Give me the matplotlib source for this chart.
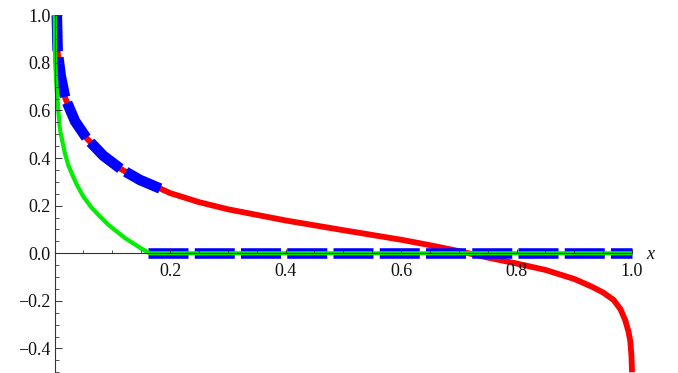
import matplotlib
matplotlib.use("Agg")
import matplotlib.pyplot as plt
from matplotlib.ticker import MultipleLocator, FixedLocator, FuncFormatter

plt.rcParams['font.family'] = 'serif'
plt.rcParams['font.serif'] = ['Liberation Serif', 'DejaVu Serif']
plt.rcParams['lines.scale_dashes'] = False

# red curve
red_x = [0.004, 0.0055, 0.011, 0.0187, 0.0355, 0.0557, 0.0845, 0.115, 0.148, 0.183,
         0.2, 0.25, 0.3, 0.4, 0.5, 0.6, 0.65, 0.7, 0.75, 0.8, 0.85, 0.9, 0.93,
         0.95, 0.968, 0.98, 0.988, 0.994, 0.997, 0.999, 1.0]
red_y = [1.0, 0.845, 0.742, 0.651, 0.555, 0.483, 0.41, 0.354, 0.308, 0.272,
         0.253, 0.215, 0.185, 0.138, 0.097, 0.057, 0.034, 0.009, -0.018, -0.043,
         -0.07, -0.108, -0.14, -0.165, -0.196, -0.235, -0.28, -0.33, -0.37, -0.43, -0.5]

# blue dashed: follows red up to the cut, then zero
blue_cut = 0.183
blue_low_x = [0.162, 1.0]
blue_low_y = [0.0, 0.0]

# green curve
green_x = [0.0005, 0.001, 0.0035, 0.0066, 0.0095, 0.018, 0.024, 0.0298, 0.0384,
           0.05, 0.064, 0.079, 0.093, 0.108, 0.122, 0.136, 0.151, 0.165, 1.0]
green_y = [1.0, 0.81, 0.70, 0.60, 0.518, 0.42, 0.369, 0.336, 0.289,
           0.238, 0.192, 0.154, 0.120, 0.091, 0.064, 0.042, 0.019, 0.0, 0.0]

x_ticks = [0.2, 0.4, 0.6, 0.8, 1.0]
y_ticks = [-0.4, -0.2, 0.0, 0.2, 0.4, 0.6, 0.8, 1.0]

fig = plt.figure(figsize=(6.78, 3.73), dpi=100)
ax = fig.add_axes([0.0804, 0.002, 0.8518, 0.957])

blue_up_x = [x for x in red_x if x <= blue_cut]
blue_up_y = red_y[:len(blue_up_x)]

ax.plot(red_x, red_y, color='#ff0000', lw=4.2, solid_capstyle='butt',
        solid_joinstyle='round', clip_on=False, zorder=1.0)
ax.plot(blue_up_x, blue_up_y, color='#0000ff', lw=7.6, ls=(2.9, (28.8, 4.5)),
        dash_capstyle='butt', clip_on=False, zorder=1.1)
ax.plot(blue_low_x, blue_low_y, color='#0000ff', lw=7.6, ls=(0, (28.8, 4.5)),
        dash_capstyle='butt', clip_on=False, zorder=1.1)
ax.plot(green_x, green_y, color='#00ee00', lw=3.0, solid_capstyle='butt',
        solid_joinstyle='round', clip_on=False, zorder=1.2)

ax.set_xlim(0, 1.0)
ax.set_ylim(-0.5, 1.0)

for s in ['top', 'right']:
    ax.spines[s].set_visible(False)
ax.spines['bottom'].set_position(('data', 0))
for s in ['left', 'bottom']:
    ax.spines[s].set_color('#333333')
    ax.spines[s].set_linewidth(0.8)
ax.set_axisbelow(False)

ax.xaxis.set_major_locator(FixedLocator(x_ticks))
ax.yaxis.set_major_locator(FixedLocator(y_ticks))
ax.xaxis.set_minor_locator(MultipleLocator(0.05))
ax.yaxis.set_minor_locator(MultipleLocator(0.05))
fmt = FuncFormatter(lambda v, p: f'{v:.1f}'.replace('-', '\u2212'))
ax.xaxis.set_major_formatter(fmt)
ax.yaxis.set_major_formatter(fmt)

ax.tick_params(axis='x', which='major', direction='in', length=3, width=0.7,
               color='#333333', labelsize=13, pad=7, labelcolor='#111111')
ax.tick_params(axis='x', which='minor', direction='in', length=2, width=0.6,
               color='#333333')
ax.tick_params(axis='y', which='major', direction='in', length=5, width=0.7,
               color='#333333', labelsize=13, pad=3, labelcolor='#111111')
ax.tick_params(axis='y', which='minor', direction='in', length=3, width=0.6,
               color='#333333')

ax.annotate('x', xy=(1.0, 0), xycoords='data', xytext=(10.5, -4),
            textcoords='offset points', ha='left', va='baseline',
            fontsize=13, style='italic', color='#111111')

fig.savefig('out.png', dpi=100)
